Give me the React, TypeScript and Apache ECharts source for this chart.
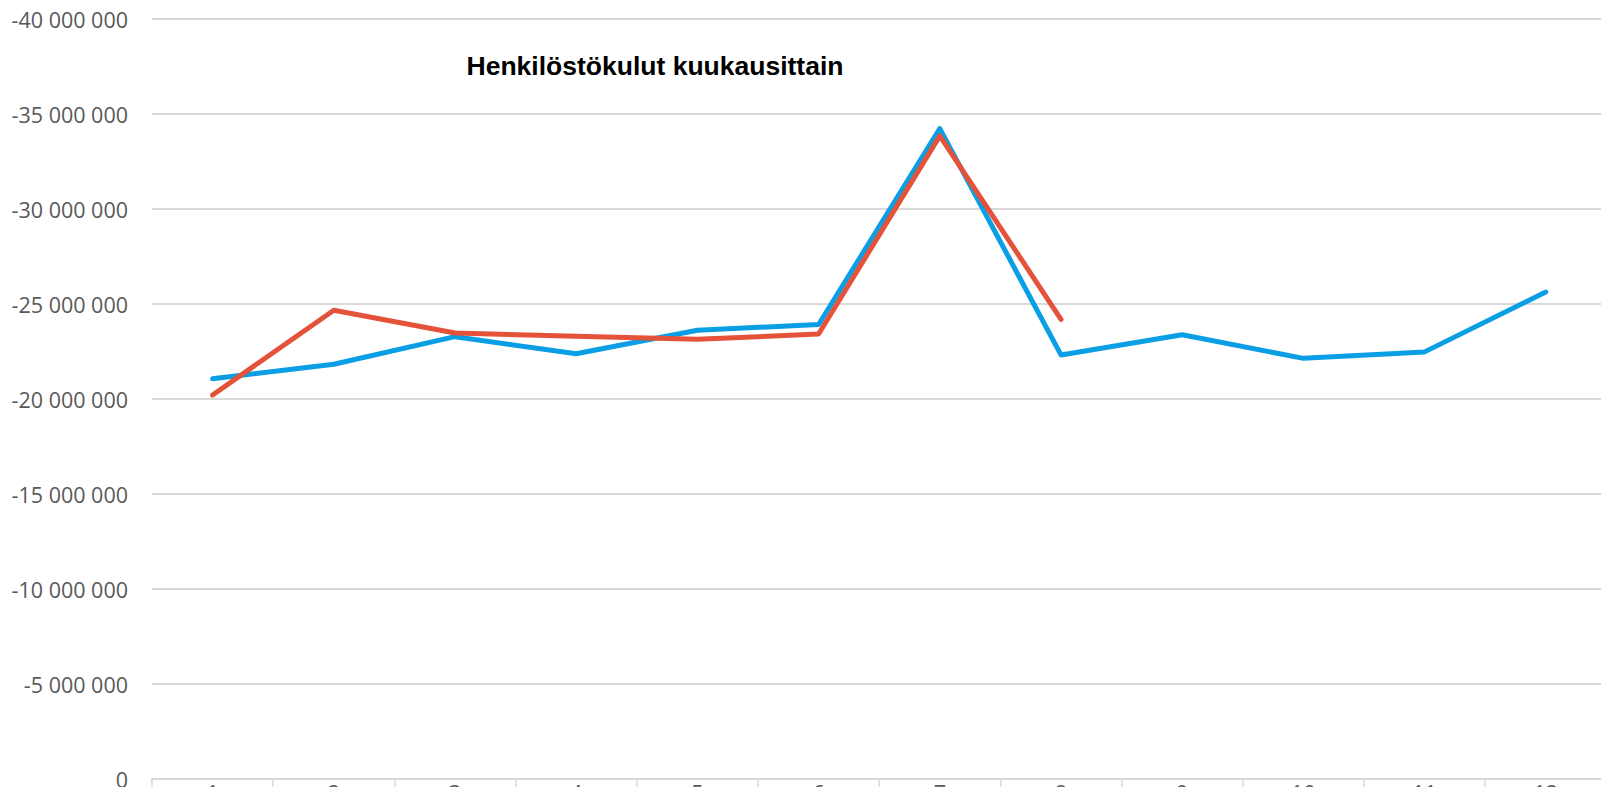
import React, { useEffect, useRef } from "react";
import * as echarts from "echarts";

const months = ["1", "2", "3", "4", "5", "6", "7", "8", "9", "10", "11", "12"];
const yTicks = [-40000000, -35000000, -30000000, -25000000, -20000000, -15000000, -10000000, -5000000, 0];
const previousYear = [
  -21070000, -21830000, -23280000, -22380000, -23620000, -23920000,
  -34230000, -22320000, -23380000, -22140000, -22480000, -25630000,
];
const currentYear = [
  -20210000, -24670000, -23470000, -23300000, -23140000, -23420000,
  -33850000, -24190000,
];
const titleText = "Henkilöstökulut kuukausittain";

function fmt(v: number): string {
  const s = Math.abs(v).toString().replace(/\B(?=(\d{3})+(?!\d))/g, " ");
  return (v < 0 ? "-" : "") + s;
}

export default function App() {
  const ref = useRef<HTMLDivElement>(null);
  useEffect(() => {
    if (!ref.current) return;
    const chart = echarts.init(ref.current, undefined, { renderer: "svg" });
    chart.setOption({
      animation: false,
      backgroundColor: "#ffffff",
      title: {
        text: titleText,
        left: 650,
        top: 47,
        textAlign: "center",
        textStyle: {
          fontFamily: "Liberation Sans, Arial, sans-serif",
          fontWeight: "bold",
          fontSize: 26.5,
          color: "#000000",
        },
      },
      grid: { left: 152, top: 19, width: 1454.4, height: 760, outerBoundsMode: "none", containLabel: false },
      xAxis: {
        type: "category",
        data: months,
        boundaryGap: true,
        axisLine: { lineStyle: { color: "#d9d9d9", width: 2 } },
        axisTick: { show: true, length: 14, lineStyle: { color: "#d9d9d9", width: 1.5 } },
        axisLabel: {
          margin: 2,
          fontFamily: "Open Sans, sans-serif",
          fontSize: 21.5,
          color: "#595959",
        },
        splitLine: { show: false },
      },
      yAxis: {
        type: "value",
        inverse: true,
        min: yTicks[0],
        max: yTicks[yTicks.length - 1],
        interval: 5000000,
        axisLine: { show: false },
        axisTick: { show: false },
        axisLabel: {
          margin: 24,
          fontFamily: "Open Sans, sans-serif",
          fontSize: 21.5,
          color: "#595959",
          formatter: (v: number) => fmt(v),
        },
        splitLine: { lineStyle: { color: "#d9d9d9", width: 2 } },
      },
      series: [
        {
          name: "previous",
          type: "line",
          data: previousYear,
          showSymbol: false,
          symbol: "none",
          lineStyle: { color: "#0a9fe4", width: 5, cap: "round", join: "round" },
          itemStyle: { color: "#0a9fe4" },
        },
        {
          name: "current",
          type: "line",
          data: currentYear,
          showSymbol: false,
          symbol: "none",
          lineStyle: { color: "#e4523a", width: 5, cap: "round", join: "round" },
          itemStyle: { color: "#e4523a" },
        },
      ],
    });
    return () => chart.dispose();
  }, []);
  return (
    <div style={{ position: "absolute", left: 0, top: 0, width: 1601, height: 787, overflow: "hidden", background: "#fff" }}>
      <div ref={ref} style={{ width: 1612, height: 787 }} />
    </div>
  );
}
